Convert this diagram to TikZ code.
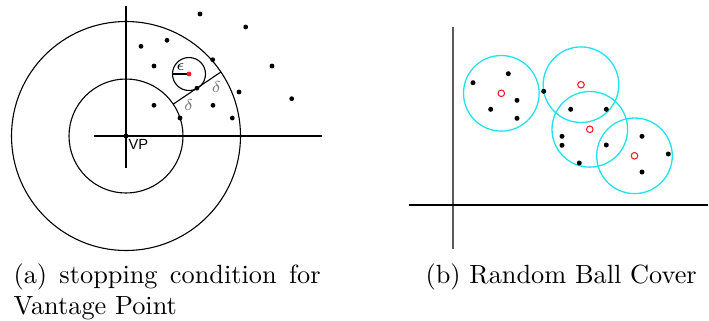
\documentclass[tikz,border=0pt]{standalone}
\usepackage{amsmath,amssymb}
\usepackage{fontspec}
\usepackage{tikz}
\usetikzlibrary{calc}
\newfontfamily\labelfont{Liberation Sans}
\definecolor{Muted}{HTML}{7A7A7A}
\definecolor{Axis}{HTML}{5A5A5A}
\definecolor{Ball}{HTML}{22E2EA}
\definecolor{Centre}{HTML}{EE1C24}

\begin{document}
\begin{tikzpicture}[
      x=0.38pt,y=-0.38pt,
      axis/.style={line width=0.45pt},
      ring/.style={line width=0.42pt},
      ball/.style={draw=Ball,line width=0.5pt},
      centre/.style={draw=Centre,line width=0.4pt},
      small/.style={font=\fontsize{6}{7}\selectfont,inner sep=0pt},
      caption/.style={inner sep=0pt,anchor=base west}
    ]
      \useasboundingbox (0,0) rectangle (709,320);
      % (a) vantage point
      \coordinate (vp) at (126,136);
      \coordinate (vTop) at (126,6);
      \coordinate (vBot) at (126,168);
      \coordinate (hLeft) at (94,136);
      \coordinate (hRight) at (322,136);
      \draw[axis] (vTop) -- (vBot);
      \draw[axis] (hLeft) -- (hRight);
      \draw[ring] (vp) circle[radius=57];
      \draw[ring] (vp) circle[radius=114.5];
      \coordinate (dIn) at ($(vp)+(-34:57)$);
      \coordinate (dOut) at ($(vp)+(-34:114.5)$);
      \coordinate (dMid) at ($(vp)+(-34:85.5)$);
      \draw[ring] (dIn) -- (dOut);
      \coordinate (query) at (189,74);
      \coordinate (epsEdge) at ($(query)+(-16.5,0)$);
      \draw[ring] (query) circle[radius=16.5];
      \draw[ring] (epsEdge) -- (query);
      \fill[Centre] (query) circle[radius=2.4];
      \foreach \p in {(200,14),(245.7,27),(141,46.3),(167,40.3),(212.7,59.7),
          (154,66),(272,66),(239,92),(291.7,98.7),(154,105.3),(213,105.3),
          (180,118),(232.3,118)}
        \fill \p circle[radius=2.4];
      \fill (dMid) circle[radius=2.4];
      \fill (vp) circle[radius=2.4];
      \node[font=\labelfont\fontsize{5.6}{6}\selectfont,anchor=base west,inner sep=0pt] (vpLabel) at (128,149.3) {VP};
      \node[small] (eps) at (180.5,67.5) {$\epsilon$};
      \node[small,text=Muted] (deltaIn) at (188.7,105) {$\delta$};
      \node[small,text=Muted] (deltaOut) at (216.3,86.7) {$\delta$};
      % (b) random ball cover
      \coordinate (yTop) at (452.7,27);
      \coordinate (yBot) at (452.7,249);
      \coordinate (xLeft) at (409,205);
      \coordinate (xRight) at (708,205);
      \draw[axis,draw=Axis,line width=0.7pt] (yTop) -- (yBot);
      \draw[axis,line width=0.55pt] (xLeft) -- (xRight);
      \foreach \bx/\by/\bn in {501.3/93.3/b1,581/84.7/b2,589.8/129.3/b3,634.5/155.8/b4}{
        \coordinate (\bn) at (\bx,\by);
        \draw[ball] (\bn) circle[radius=37.8];
        \draw[centre] (\bn) circle[radius=3.3];
      }
      \foreach \p in {(473,82.7),(508.3,73.7),(517,100.3),(490.7,109.3),(517,118.3),
          (543.7,91.3),(570.7,109.3),(606.3,109.3),(562,136.3),(562,145.3),
          (579.3,163),(606.3,145),(642,136.3),(668.3,154),(642,172)}
        \fill \p circle[radius=2.5];
      % captions
      \node[caption,text width=116.7pt,align=justify] (capA) at (13,283) {(a) stopping condition for Vantage Point};
      \node[caption] (capB) at (425,283) {(b) Random Ball Cover};
    \end{tikzpicture}
\end{document}
